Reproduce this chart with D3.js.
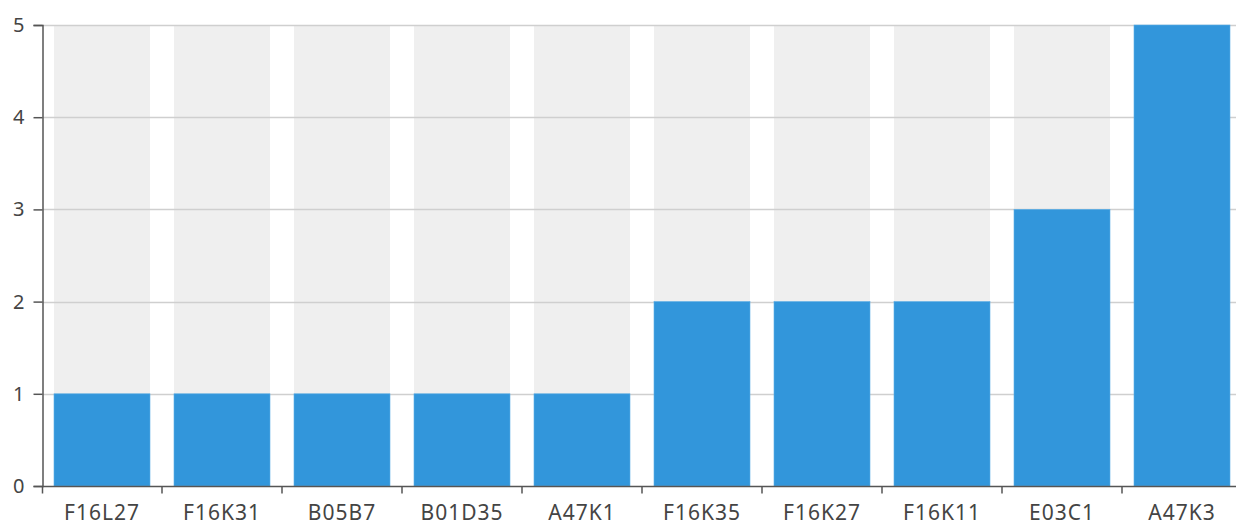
<!DOCTYPE html>
<html><head><meta charset="utf-8">
<script src="https://cdn.jsdelivr.net/npm/d3@7"></script>
<style>body{margin:0;background:#fff}svg{display:block}text{font-family:"Noto Sans",sans-serif;fill:#444}</style>
</head><body><svg id="c" width="1236" height="527"></svg>
<script>
const categories = ["F16L27","F16K31","B05B7","B01D35","A47K1","F16K35","F16K27","F16K11","E03C1","A47K3"];
const values = [1,1,1,1,1,2,2,2,3,5];
const yTicks = [0,1,2,3,4,5];

(function(){
const svg = d3.select("#c");
const left = 42.5, plotTop = 25, bottom = 486;
const x = d3.scaleBand().domain(categories).range([42, 1242]).paddingInner(0.2).paddingOuter(0.1);
const y = d3.scaleLinear().domain([0,5]).range([bottom, plotTop]);

svg.append("g").selectAll("rect").data(categories).join("rect")
  .attr("x", d => x(d)).attr("width", x.bandwidth())
  .attr("y", plotTop).attr("height", bottom - plotTop).attr("fill", "#efefef");

svg.append("g").selectAll("line").data(yTicks.filter(d=>d>0)).join("line")
  .attr("x1", left).attr("x2", 1236).attr("y1", d => Math.round(y(d))+0.5).attr("y2", d => Math.round(y(d))+0.5)
  .attr("stroke", "#cfcfcf").attr("stroke-width", 1.5);

svg.append("g").selectAll("rect").data(values).join("rect")
  .attr("x", (d,i) => x(categories[i])).attr("width", x.bandwidth())
  .attr("y", d => y(d)).attr("height", d => bottom - y(d))
  .attr("fill", "#3296db").attr("stroke", "#5aaee6").attr("stroke-width", 0.6);

const gy = svg.append("g").attr("transform", `translate(${left},0)`)
  .call(d3.axisLeft(y).tickValues(yTicks).tickSize(9).tickPadding(9).tickFormat(d3.format("d")));
gy.select(".domain").attr("stroke", "#555").attr("stroke-width", 1.5);
gy.selectAll(".tick line").attr("stroke", "#555").attr("stroke-width", 1.5);
gy.selectAll("text").style("font-size", "20px").style("font-family", "'Noto Sans',sans-serif").attr("fill", "#444");

const gx = svg.append("g").attr("transform", `translate(0,${bottom+0.5})`);
gx.append("line").attr("x1", left).attr("x2", 1236).attr("stroke", "#555").attr("stroke-width", 1.5);
const step = x.step();
gx.selectAll("line.t").data(categories).join("line").attr("class","t")
  .attr("x1", (d,i) => i===0 ? left : x(d) - (step - x.bandwidth())/2)
  .attr("x2", (d,i) => i===0 ? left : x(d) - (step - x.bandwidth())/2)
  .attr("y1", 0).attr("y2", 7).attr("stroke", "#555").attr("stroke-width", 1.5);
gx.selectAll("text").data(categories).join("text")
  .attr("x", d => x(d) + x.bandwidth()/2).attr("y", 33)
  .attr("text-anchor", "middle").style("font-size", "21px").style("letter-spacing", "1px").text(d => d);
})();
</script></body></html>
